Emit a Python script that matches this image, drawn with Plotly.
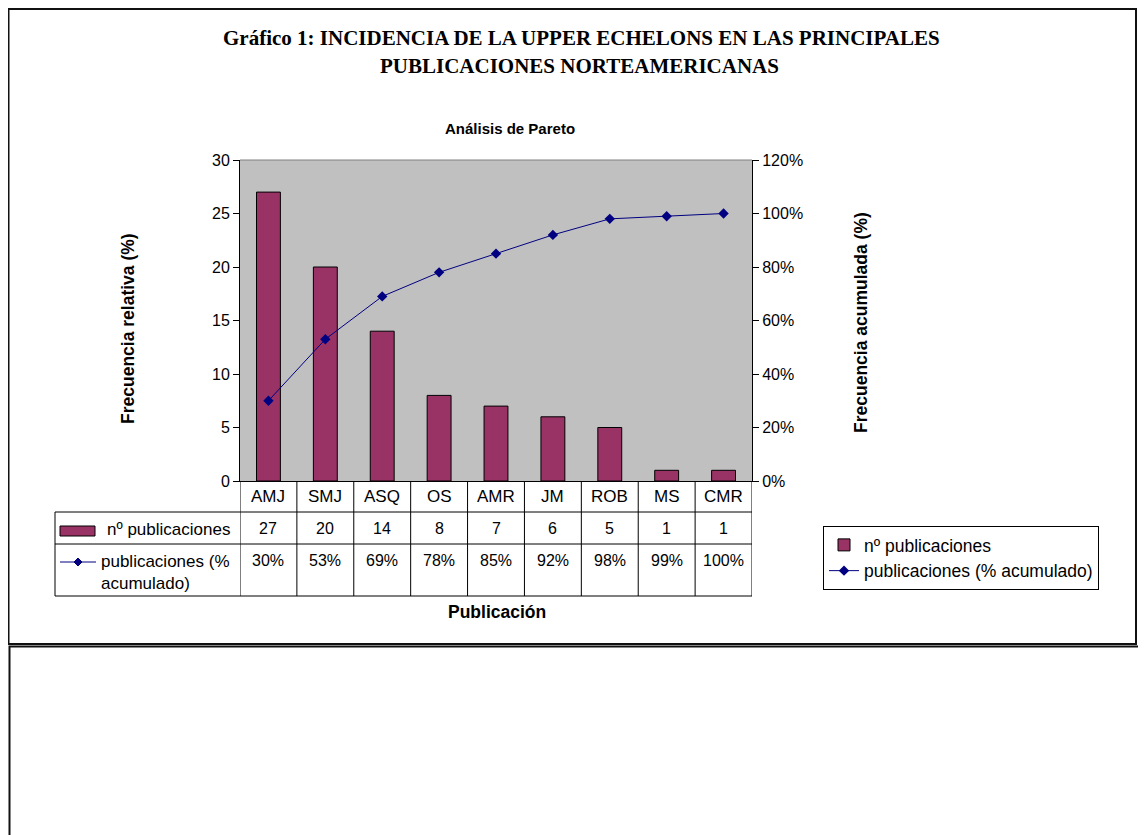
import plotly.graph_objects as go

# ---- data ----
categorias = ["AMJ", "SMJ", "ASQ", "OS", "AMR", "JM", "ROB", "MS", "CMR"]
n_publicaciones = [27, 20, 14, 8, 7, 6, 5, 1, 1]
pct_acumulado = [0.30, 0.53, 0.69, 0.78, 0.85, 0.92, 0.98, 0.99, 1.00]
y_left_ticks = [0, 5, 10, 15, 20, 25, 30]
y_right_ticks = [0, 0.2, 0.4, 0.6, 0.8, 1.0, 1.2]

serie_barras = "nº publicaciones"
serie_linea = "publicaciones (% acumulado)"

W, H = 1146, 835
OFF = 8  # page body margin


def px(x):
    return (x - OFF) / W


def py(y):
    return 1 - (y - OFF) / H


BAR = "#993366"
LINE = "#000080"
FONT = "Liberation Sans, Arial, sans-serif"
SERIF = "Liberation Serif, Times New Roman, serif"

fig = go.Figure()
fig.add_trace(go.Bar(
    x=categorias, y=n_publicaciones, name=serie_barras, legendgroup="a",
    marker=dict(color=BAR, line=dict(color="black", width=1)),
    width=0.42, yaxis="y",
))
fig.add_trace(go.Scatter(
    x=categorias, y=pct_acumulado, name=serie_linea, mode="lines+markers", legendgroup="b",
    line=dict(color=LINE, width=1), marker=dict(symbol="diamond", size=8, color=LINE),
    yaxis="y2",
))

shapes = []
annotations = []


def txt(x, y, text, size, family=FONT, xanchor="center", **kw):
    annotations.append(dict(x=x, y=y, xref=kw.pop("xref", "paper"), yref="paper", text=text,
                            showarrow=False, xanchor=xanchor, yanchor="middle",
                            font=dict(size=size, family=family, color="black"), **kw))


# frames
shapes.append(dict(type="rect", xref="paper", yref="paper", x0=px(8.5), y0=py(9), x1=px(1136), y1=py(644),
                   line=dict(color="#111", width=2), layer="below"))
shapes.append(dict(type="rect", xref="paper", yref="paper", x0=px(9.5), y0=py(646.5), x1=px(1170), y1=py(860),
                   line=dict(color="#111", width=2), layer="below"))

# table lines
TL, TR = 55, 752
for yy in [512, 544, 596]:
    shapes.append(dict(type="line", xref="paper", yref="paper", x0=px(TL), x1=px(TR), y0=py(yy), y1=py(yy),
                       line=dict(color="black", width=1)))
shapes.append(dict(type="line", xref="paper", yref="paper", x0=px(TL), x1=px(TL), y0=py(512), y1=py(596),
                   line=dict(color="black", width=1)))
for i in range(len(categorias) + 1):
    shapes.append(dict(type="line", xref="x", yref="paper", x0=i - 0.5, x1=i - 0.5, y0=py(481), y1=py(596),
                       line=dict(color="black", width=1)))

# table text
for i, c in enumerate(categorias):
    txt(c, py(496), c, 17, xref="x")
    txt(c, py(528), str(n_publicaciones[i]), 16, xref="x")
    txt(c, py(560), f"{round(pct_acumulado[i] * 100)}%", 16, xref="x")

# table legend keys
shapes.append(dict(type="rect", xref="paper", yref="paper", x0=px(60), x1=px(95), y0=py(526), y1=py(536),
                   fillcolor=BAR, line=dict(color="black", width=1)))
shapes.append(dict(type="line", xref="paper", yref="paper", x0=px(60), x1=px(96), y0=py(562), y1=py(562),
                   line=dict(color=LINE, width=1)))
shapes.append(dict(type="path", xref="paper", yref="paper",
                   path=f"M {px(78)} {py(558)} L {px(82)} {py(562)} L {px(78)} {py(566)} L {px(74)} {py(562)} Z",
                   fillcolor=LINE, line=dict(color=LINE, width=1)))
txt(px(105), py(529), serie_barras, 17, xanchor="left")
txt(px(99), py(572), "publicaciones (%<br>acumulado)", 17, xanchor="left", align="left")

# titles
txt(px(581), py(38), "<b>Gráfico 1: INCIDENCIA DE LA UPPER ECHELONS EN LAS PRINCIPALES</b>", 21, SERIF)
txt(px(579), py(66), "<b>PUBLICACIONES NORTEAMERICANAS</b>", 21, SERIF)
txt(px(510), py(128), "<b>Análisis de Pareto</b>", 15)
txt(px(128), py(329), "<b>Frecuencia relativa (%)</b>", 17.5, textangle=-90)
txt(px(861), py(323), "<b>Frecuencia acumulada (%)</b>", 17.5, textangle=-90)
txt(px(497), py(612), "<b>Publicación</b>", 17.5)

fig.update_layout(
    width=W, height=H, margin=dict(l=0, r=0, t=0, b=0, pad=0, autoexpand=False),
    paper_bgcolor="white", plot_bgcolor="#C0C0C0",
    font=dict(family=FONT, size=16, color="black"),
    xaxis=dict(domain=[px(240), px(752)], type="category", range=[-0.5, 8.5], showticklabels=False,
               ticks="", showgrid=False, zeroline=False, showline=True, linecolor="black", linewidth=1,
               automargin=False),
    yaxis=dict(domain=[py(481), py(160)], range=[0, 30], tickvals=y_left_ticks, ticks="outside", ticklen=6,
               tickcolor="black", showgrid=False, zeroline=False, showline=True, linecolor="black",
               linewidth=1, tickfont=dict(size=16, family=FONT), automargin=False),
    yaxis2=dict(overlaying="y", side="right", range=[0, 1.2], tickvals=y_right_ticks, tickformat=".0%",
                ticks="outside", ticklen=6, tickcolor="black", showgrid=False, zeroline=False, showline=True,
                linecolor="black", linewidth=1, tickfont=dict(size=16, family=FONT), automargin=False),
    legend=dict(x=px(823), y=py(526), xanchor="left", yanchor="top", bordercolor="black", borderwidth=1,
                bgcolor="white", font=dict(size=17.5, family=FONT), traceorder="grouped", tracegroupgap=0),
    showlegend=True,
    shapes=shapes, annotations=annotations,
)
# top border of plot area
fig.add_shape(type="line", xref="paper", yref="paper", x0=px(240), x1=px(752), y0=py(160), y1=py(160),
              line=dict(color="#808080", width=1))

fig.write_html("out.html")
